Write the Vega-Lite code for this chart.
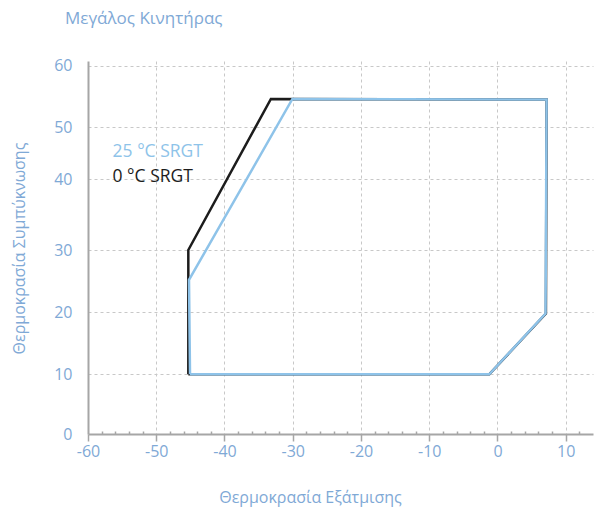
{
  "$schema": "https://vega.github.io/schema/vega-lite/v6.json",
  "width": 505,
  "height": 373,
  "autosize": {"type": "none"},
  "padding": {"left": 88, "top": 61, "right": 3, "bottom": 74},
  "title": {
    "text": "Μεγάλος Κινητήρας",
    "anchor": "start",
    "frame": "group",
    "dx": -23,
    "offset": 30,
    "font": "Open Sans",
    "fontSize": 17,
    "fontWeight": "normal",
    "color": "#7fa9d6"
  },
  "config": {
    "view": {"stroke": null},
    "font": "Open Sans"
  },
  "datasets": {
    "black": [
      {"i": 0, "t": -45.3, "c": 10, "series": "0 °C SRGT"},
      {"i": 1, "t": -45.3, "c": 30, "series": "0 °C SRGT"},
      {"i": 2, "t": -33.2, "c": 54.6, "series": "0 °C SRGT"},
      {"i": 3, "t": 7.2, "c": 54.5, "series": "0 °C SRGT"},
      {"i": 4, "t": 7.1, "c": 19.8, "series": "0 °C SRGT"},
      {"i": 5, "t": -1.2, "c": 10, "series": "0 °C SRGT"},
      {"i": 6, "t": -45.3, "c": 10, "series": "0 °C SRGT"}
    ],
    "blue": [
      {"i": 0, "t": -45.05, "c": 10, "series": "25 °C SRGT"},
      {"i": 1, "t": -45.2, "c": 25.2, "series": "25 °C SRGT"},
      {"i": 2, "t": -30.05, "c": 54.6, "series": "25 °C SRGT"},
      {"i": 3, "t": 7.2, "c": 54.5, "series": "25 °C SRGT"},
      {"i": 4, "t": 7.05, "c": 19.8, "series": "25 °C SRGT"},
      {"i": 5, "t": -1.2, "c": 10, "series": "25 °C SRGT"},
      {"i": 6, "t": -45.05, "c": 10, "series": "25 °C SRGT"}
    ],
    "labels": [
      {"t": -56.4, "c": 45.25, "series": "25 °C SRGT"},
      {"t": -56.4, "c": 40.45, "series": "0 °C SRGT"}
    ]
  },
  "layer": [
    {
      "data": {"name": "black"},
      "mark": {"type": "line", "strokeWidth": 2.5, "strokeJoin": "miter"},
      "encoding": {
        "x": {
          "field": "t",
          "type": "quantitative",
          "scale": {"domain": [-60, 14], "nice": false, "zero": false},
          "axis": {
            "title": "Θερμοκρασία Εξάτμισης",
            "titleFont": "Open Sans",
            "titleFontSize": 16,
            "titleFontWeight": "normal",
            "titleColor": "#7fa9d6",
            "titleX": 222,
            "titleY": 63,
            "titleBaseline": "middle",
            "tickCount": 200,
            "values": [-60, -58, -56, -54, -52, -50, -48, -46, -44, -42, -40, -38, -36, -34, -32, -30, -28, -26, -24, -22, -20, -18, -16, -14, -12, -10, -8, -6, -4, -2, 0, 2, 4, 6, 8, 10, 12],
            "labelExpr": "datum.value % 10 === 0 ? ('' + datum.value) : ''",
            "labelFont": "Open Sans",
            "labelFontSize": 16,
            "labelColor": "#7fa9d6",
            "labelPadding": 2,
            "labelFlush": false,
            "labelOverlap": false,
            "domainColor": "#a6a6a6",
            "domainWidth": 2,
            "tickColor": "#a6a6a6",
            "tickWidth": 1.5,
            "tickSize": {"condition": {"test": "datum.value % 10 === 0", "value": 7}, "value": -3},
            "grid": true,
            "gridColor": "#c8c8c8",
            "gridDash": [3, 3],
            "gridWidth": 1,
            "gridOpacity": {"condition": {"test": "datum.value % 10 === 0 && datum.value !== -60", "value": 1}, "value": 0}
          }
        },
        "y": {
          "field": "c",
          "type": "quantitative",
          "scale": {
            "domain": [0, 10, 20, 30, 40, 50, 60, 60.76],
            "range": [373, 313.3, 251.3, 189, 118.3, 66.3, 4.7, 0],
            "nice": false,
            "zero": false
          },
          "axis": {
            "title": "Θερμοκρασία Συμπύκνωσης",
            "titleFont": "Open Sans",
            "titleFontSize": 16,
            "titleFontWeight": "normal",
            "titleColor": "#7fa9d6",
            "titleAngle": -90,
            "titleX": -69,
            "titleY": 187,
            "titleBaseline": "middle",
            "titleAlign": "center",
            "tickCount": 50,
            "values": [0, 10, 20, 30, 40, 50, 60],
            "labelFont": "Open Sans",
            "labelFontSize": 16,
            "labelColor": "#7fa9d6",
            "labelPadding": 16,
            "labelFlush": false,
            "labelOverlap": false,
            "ticks": false,
            "domainColor": "#a6a6a6",
            "domainWidth": 2,
            "grid": true,
            "gridColor": "#c8c8c8",
            "gridDash": [3, 3],
            "gridWidth": 1,
            "gridOpacity": {"condition": {"test": "datum.value !== 0", "value": 1}, "value": 0}
          }
        },
        "order": {"field": "i", "type": "quantitative"},
        "color": {
          "field": "series",
          "type": "nominal",
          "scale": {"domain": ["25 °C SRGT", "0 °C SRGT"], "range": ["#8ec3e9", "#1c1c1c"]},
          "legend": null
        }
      }
    },
    {
      "data": {"name": "blue"},
      "mark": {"type": "line", "strokeWidth": 2.5, "strokeJoin": "miter"},
      "encoding": {
        "x": {"field": "t", "type": "quantitative"},
        "y": {"field": "c", "type": "quantitative"},
        "order": {"field": "i", "type": "quantitative"},
        "color": {"field": "series", "type": "nominal", "legend": null}
      }
    },
    {
      "data": {"name": "labels"},
      "mark": {"type": "text", "align": "left", "baseline": "middle", "font": "Open Sans", "fontSize": 17.5},
      "encoding": {
        "x": {"field": "t", "type": "quantitative"},
        "y": {"field": "c", "type": "quantitative"},
        "text": {"field": "series", "type": "nominal"},
        "color": {"field": "series", "type": "nominal", "legend": null}
      }
    }
  ]
}
